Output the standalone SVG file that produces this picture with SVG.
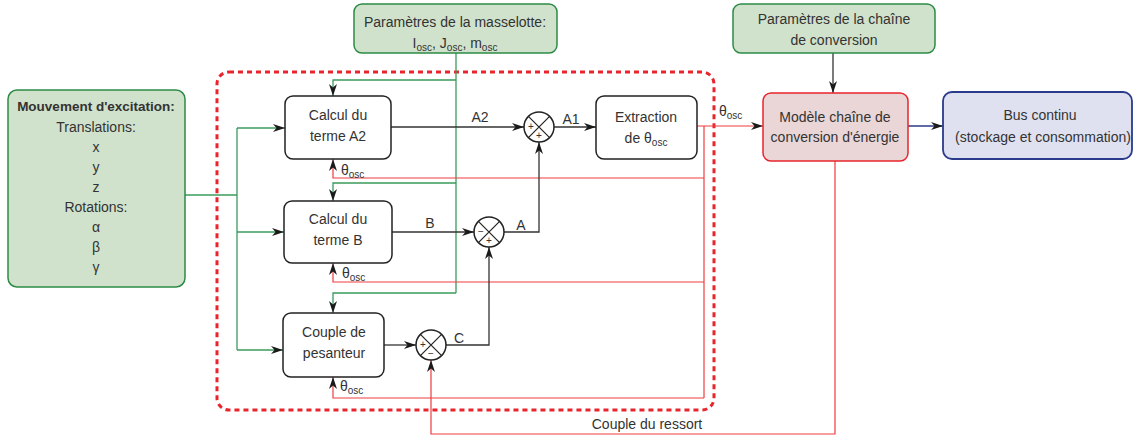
<svg xmlns="http://www.w3.org/2000/svg" width="1135" height="439" viewBox="0 0 1135 439">
<defs>
<marker id="arr" viewBox="0 0 12 8" refX="12" refY="4" markerWidth="12" markerHeight="8" markerUnits="userSpaceOnUse" orient="auto">
<path d="M0,0 L12,4 L0,8 L3.5,4 Z" fill="#1a1a1a"/>
</marker>
</defs>
<style>
text{font-family:"Liberation Sans",Arial,sans-serif;font-size:14px;fill:#333}
.c{text-anchor:middle}
.b{font-weight:bold;font-size:13.5px}
.sub{font-size:10px}
.sg{font-size:10px;text-anchor:middle}
.gbox{fill:#d0e2cb;stroke:#2b8a45;stroke-width:1.5}
.kbox{fill:#fff;stroke:#222;stroke-width:1.5}
.rbox{fill:#ead6d6;stroke:#e8242c;stroke-width:1.5}
.nbox{fill:#dfe1f1;stroke:#2a3a8c;stroke-width:1.8}
.sum{fill:#fff;stroke:#222;stroke-width:1.5}
.x{stroke:#222;stroke-width:1.2}
.g{fill:none;stroke:#3a9c5c;stroke-width:1.3}
.r{fill:none;stroke:#ef3b40;stroke-width:1.2}
.k{fill:none;stroke:#333;stroke-width:1.3}
.n{fill:none;stroke:#2a3a8c;stroke-width:1.3}
.dash{fill:none;stroke:#e8242c;stroke-width:3;stroke-dasharray:5 4}
</style>
<rect class="dash" x="217" y="72" width="497" height="338" rx="12"/>
<g id="connectors">
<path class="g" d="M185,195 H237"/>
<path class="g" d="M237,128 V350"/>
<path class="g" d="M237,128 H285" marker-end="url(#arr)"/>
<path class="g" d="M237,232 H284" marker-end="url(#arr)"/>
<path class="g" d="M237,350 H283" marker-end="url(#arr)"/>
<path class="g" d="M456,53 V293"/>
<path class="g" d="M456,80 H333 V96" marker-end="url(#arr)"/>
<path class="g" d="M456,183 H333 V201" marker-end="url(#arr)"/>
<path class="g" d="M456,293 H333 V313" marker-end="url(#arr)"/>
<path class="r" d="M697,126 H763" marker-end="url(#arr)"/>
<path class="r" d="M704,126 V398"/>
<path class="r" d="M704,178 H333 V159" marker-end="url(#arr)"/>
<path class="r" d="M704,282 H333 V263" marker-end="url(#arr)"/>
<path class="r" d="M704,398 H333 V377" marker-end="url(#arr)"/>
<path class="r" d="M835,161 V434 H431 V360" marker-end="url(#arr)"/>
<path class="k" d="M391,127 H524" marker-end="url(#arr)"/>
<path class="k" d="M554,127 H596" marker-end="url(#arr)"/>
<path class="k" d="M392,232 H474" marker-end="url(#arr)"/>
<path class="k" d="M504,232 H539 V142" marker-end="url(#arr)"/>
<path class="k" d="M384,345 H416" marker-end="url(#arr)"/>
<path class="k" d="M446,345 H489 V247" marker-end="url(#arr)"/>
<path class="k" d="M833,53 V93" marker-end="url(#arr)"/>
<path class="n" d="M908,126 H943" marker-end="url(#arr)"/>
<text x="480" y="122" class="c">A2</text>
<text x="571" y="124" class="c">A1</text>
<text x="430" y="228" class="c">B</text>
<text x="521" y="230" class="c">A</text>
<text x="459" y="343" class="c">C</text>
<text x="341" y="175">θ<tspan class="sub" dy="3">osc</tspan></text>
<text x="342" y="278">θ<tspan class="sub" dy="3">osc</tspan></text>
<text x="340" y="391">θ<tspan class="sub" dy="3">osc</tspan></text>
<text x="719" y="116">θ<tspan class="sub" dy="3">osc</tspan></text>
<text x="647" y="429" class="c">Couple du ressort</text>
</g>
<g id="excitation">
<rect class="gbox" x="8" y="90" width="177" height="197" rx="9"/>
<text x="96" y="111" class="c b">Mouvement d'excitation:</text>
<text x="96" y="132" class="c">Translations:</text>
<text x="96" y="152" class="c">x</text>
<text x="96" y="172" class="c">y</text>
<text x="96" y="192" class="c">z</text>
<text x="96" y="212" class="c">Rotations:</text>
<text x="96" y="232" class="c">α</text>
<text x="96" y="252" class="c">β</text>
<text x="96" y="272" class="c">γ</text>
</g>
<g id="masselotte">
<rect class="gbox" x="354" y="4" width="203" height="49" rx="8"/>
<text x="455" y="27" class="c">Paramètres de la masselotte:</text>
<text x="455" y="48" class="c">I<tspan class="sub" dy="3">osc</tspan><tspan dy="-3">, J</tspan><tspan class="sub" dy="3">osc</tspan><tspan dy="-3">, m</tspan><tspan class="sub" dy="3">osc</tspan></text>
</g>
<g id="calculA2">
<rect class="kbox" x="285" y="96" width="106" height="63" rx="8"/>
<text x="338" y="120" class="c">Calcul du</text>
<text x="338" y="141" class="c">terme A2</text>
</g>
<g id="calculB">
<rect class="kbox" x="284" y="201" width="108" height="62" rx="8"/>
<text x="338" y="224" class="c">Calcul du</text>
<text x="338" y="245" class="c">terme B</text>
</g>
<g id="pesanteur">
<rect class="kbox" x="283" y="313" width="101" height="64" rx="8"/>
<text x="334" y="337" class="c">Couple de</text>
<text x="334" y="358" class="c">pesanteur</text>
</g>
<g id="sum1">
<circle class="sum" cx="539" cy="127" r="15"/>
<path class="x" d="M528.4,116.4 L549.6,137.6 M549.6,116.4 L528.4,137.6"/>
<text x="531" y="130" class="sg">+</text>
<text x="539" y="139" class="sg">+</text>
</g>
<g id="sum2">
<circle class="sum" cx="489" cy="232" r="15"/>
<path class="x" d="M478.4,221.4 L499.6,242.6 M499.6,221.4 L478.4,242.6"/>
<text x="481" y="235" class="sg">−</text>
<text x="489" y="244" class="sg">+</text>
</g>
<g id="sum3">
<circle class="sum" cx="431" cy="345" r="15"/>
<path class="x" d="M420.4,334.4 L441.6,355.6 M441.6,334.4 L420.4,355.6"/>
<text x="423" y="348" class="sg">+</text>
<text x="431" y="357" class="sg">−</text>
</g>
<g id="extraction">
<rect class="kbox" x="596" y="96" width="101" height="63" rx="8"/>
<text x="646" y="122" class="c">Extraction</text>
<text x="646" y="143" class="c">de θ<tspan class="sub" dy="3">osc</tspan></text>
</g>
<g id="chaine-params">
<rect class="gbox" x="733" y="4" width="202" height="49" rx="8"/>
<text x="834" y="24" class="c">Paramètres de la chaîne</text>
<text x="834" y="45" class="c">de conversion</text>
</g>
<g id="modele">
<rect class="rbox" x="763" y="93" width="145" height="68" rx="8"/>
<text x="835" y="122" class="c">Modèle chaîne de</text>
<text x="835" y="142" class="c">conversion d'énergie</text>
</g>
<g id="bus">
<rect class="nbox" x="943" y="92" width="189" height="67" rx="9"/>
<text x="1040" y="120" class="c">Bus continu</text>
<text x="1043" y="142" class="c">(stockage et consommation)</text>
</g>
</svg>
